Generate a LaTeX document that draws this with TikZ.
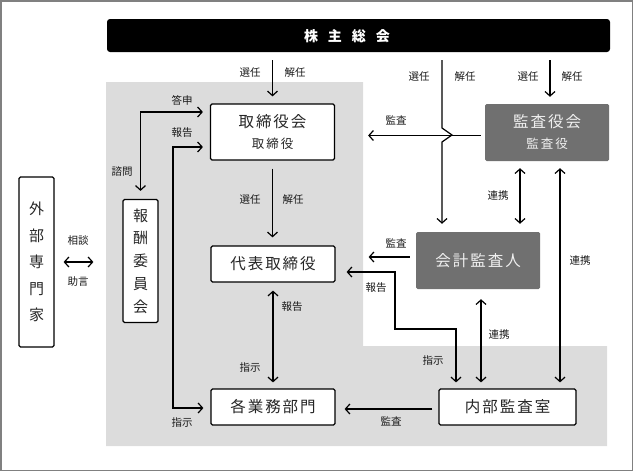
\documentclass[tikz,border=0pt]{standalone}
\usepackage{fontspec}
\setmainfont{Noto Sans CJK JP}
\usetikzlibrary{arrows.meta}
\definecolor{bggray}{RGB}{220,220,220}
\definecolor{dgray}{RGB}{112,112,112}
\newcommand{\ks}{\kern2pt}
\begin{document}
\begin{tikzpicture}[x=1pt,y=-1pt,
  wbox/.style={draw=black, line width=1.2pt, fill=white, rounded corners=1.5pt, inner sep=0pt, align=center, text=black!85},
  dbox/.style={draw=none, fill=dgray, rounded corners=1.5pt, inner sep=0pt, align=center, text=white!94!black},
  lbl/.style={font=\fontsize{10.5}{12}\selectfont, inner sep=0pt, text=black!90},
  big/.style={font=\fontsize{15.5}{18}\selectfont},
  arr/.style={line width=1.2pt, -{Straight Barb[length=4.5pt,width=10pt]}},
  darr/.style={line width=1.2pt, {Straight Barb[length=4.5pt,width=10pt]}-{Straight Barb[length=4.5pt,width=10pt]}},
]
\useasboundingbox (0,0) rectangle (633,471);
\draw[gray, line width=1.5pt] (0.75,0.75) rectangle (632.25,470.25);
\fill[bggray] (106,82) -- (363,82) -- (363,346) -- (607,346) -- (607,446) -- (106,446) -- cycle;

% nodes
\node[fill=black, rounded corners=3pt, minimum width=503pt, minimum height=33pt, inner sep=0pt] (bar) at (358.5,35.5) {};
\node[text=white, font=\fontsize{14}{16}\selectfont\bfseries, inner sep=0pt] (bart) at (347,36) {株\kern10pt 主\kern10pt 総\kern10pt 会};

\node[wbox, minimum width=124pt, minimum height=56pt] (tb) at (272.5,132)
  {\fontsize{15.5}{18}\selectfont 取\ks 締\ks 役\ks 会\\[9pt]\fontsize{12.5}{14}\selectfont 取\ks 締\ks 役};
\node[dbox, minimum width=124pt, minimum height=57pt] (kyk) at (547,132.5)
  {\fontsize{15.5}{18}\selectfont 監\ks 査\ks 役\ks 会\\[9pt]\fontsize{12.5}{14}\selectfont 監\ks 査\ks 役};
\node[wbox, big, minimum width=124pt, minimum height=36pt] (daihyo) at (273,264) {代\ks 表\ks 取\ks 締\ks 役};
\node[dbox, big, minimum width=124pt, minimum height=57pt] (kaikei) at (478,260.5) {会\ks 計\ks 監\ks 査\ks 人};
\node[wbox, big, minimum width=124pt, minimum height=36pt] (gyomu) at (273,407) {各\ks 業\ks 務\ks 部\ks 門};
\node[wbox, big, minimum width=137pt, minimum height=36pt] (naibu) at (507.5,407) {内\ks 部\ks 監\ks 査\ks 室};
\node[wbox, minimum width=35pt, minimum height=123pt, font=\fontsize{15}{22.8}\selectfont] (hoshu) at (140.5,261) {報\\酬\\委\\員\\会};
\node[wbox, minimum width=35pt, minimum height=170pt, font=\fontsize{15}{26.5}\selectfont] (gaibu) at (36.5,262) {外\\部\\専\\門\\家};

% helper coordinates
\coordinate (kx) at (442,0);
\coordinate (k3) at (550,0);
\coordinate (k4) at (520,0);
\coordinate (k5) at (560,0);
\coordinate (k7) at (481,0);
\coordinate (k8) at (456,0);
\coordinate (tbt) at ([yshift=20pt]tb.west);

% connectors
\draw[arr, shorten <=8pt, shorten >=7pt] (bar.south -| tb.north) -- (tb.north);
\draw[arr, shorten <=8pt, shorten >=8pt] (bar.south -| kx) -- (442,128) -- (452,135) -- (442,142) -- (kx |- kaikei.north);
\draw[arr, shorten <=8pt, shorten >=7pt] (bar.south -| k3) -- (k3 |- kyk.north);
\draw[arr, shorten <=4pt, shorten >=33pt] ([yshift=-3pt]kyk.west) -- ([yshift=-3pt]kyk.west -| tb.east);
\draw[darr, shorten <=7pt, shorten >=8pt] (k4 |- kyk.south) -- (k4 |- kaikei.north);
\draw[darr, shorten <=7pt, shorten >=6pt] (k5 |- kyk.south) -- (k5 |- naibu.north);
\draw[arr, shorten <=6pt, shorten >=33pt] ([yshift=3.5pt]kaikei.west) -- ([yshift=3.5pt]kaikei.west -| daihyo.east);
\draw[darr, shorten <=10pt, shorten >=6pt] (k7 |- kaikei.south) -- (k7 |- naibu.north);
\draw[darr, shorten <=11pt, shorten >=6pt] ([yshift=-8pt]daihyo.east) -- (395,272) -- (395,329) -- (456,329) -- (k8 |- naibu.north);
\draw[arr, shorten <=6pt, shorten >=9pt] ([yshift=-2pt]naibu.west) -- ([yshift=-2pt]naibu.west -| gyomu.east);
\draw[arr, shorten <=8pt, shorten >=8pt] (tb.south) -- (tb.south |- daihyo.north);
\draw[darr, shorten <=8pt, shorten >=6pt] (daihyo.south) -- (daihyo.south |- gyomu.north);
\draw[darr, shorten <=8pt, shorten >=7pt] (hoshu.north) -- (hoshu.north |- tbt) -- (tbt);
\draw[darr, shorten <=7pt, shorten >=7pt] ([yshift=-15pt]tb.west) -- (173,147) -- (173,408) -- ([yshift=-1pt]gyomu.west);
\draw[darr, shorten <=9pt, shorten >=29pt] (gaibu.east) -- (gaibu.east -| hoshu.west);

% labels
\node[lbl] (l1) at (250,73) {選任};
\node[lbl] (l2) at (295,73) {解任};
\node[lbl] (l3) at (419,77) {選任};
\node[lbl] (l4) at (465,77) {解任};
\node[lbl] (l5) at (528,77) {選任};
\node[lbl] (l6) at (572,77) {解任};
\node[lbl] (l7) at (396,120) {監査};
\node[lbl] (l8) at (182,100) {答申};
\node[lbl] (l9) at (122,172) {諮問};
\node[lbl] (l10) at (182,133) {報告};
\node[lbl] (l11) at (250,200) {選任};
\node[lbl] (l12) at (293,200) {解任};
\node[lbl] (l13) at (498,196) {連携};
\node[lbl] (l14) at (396,243) {監査};
\node[lbl] (l15) at (376,288) {報告};
\node[lbl] (l16) at (580,261) {連携};
\node[lbl] (l17) at (78,241) {相談};
\node[lbl] (l18) at (78,282) {助言};
\node[lbl] (l19) at (292,307) {報告};
\node[lbl] (l20) at (250,368) {指示};
\node[lbl] (l21) at (499,335) {連携};
\node[lbl] (l22) at (433,361) {指示};
\node[lbl] (l23) at (182,423) {指示};
\node[lbl] (l24) at (391,421) {監査};
\end{tikzpicture}
\end{document}
